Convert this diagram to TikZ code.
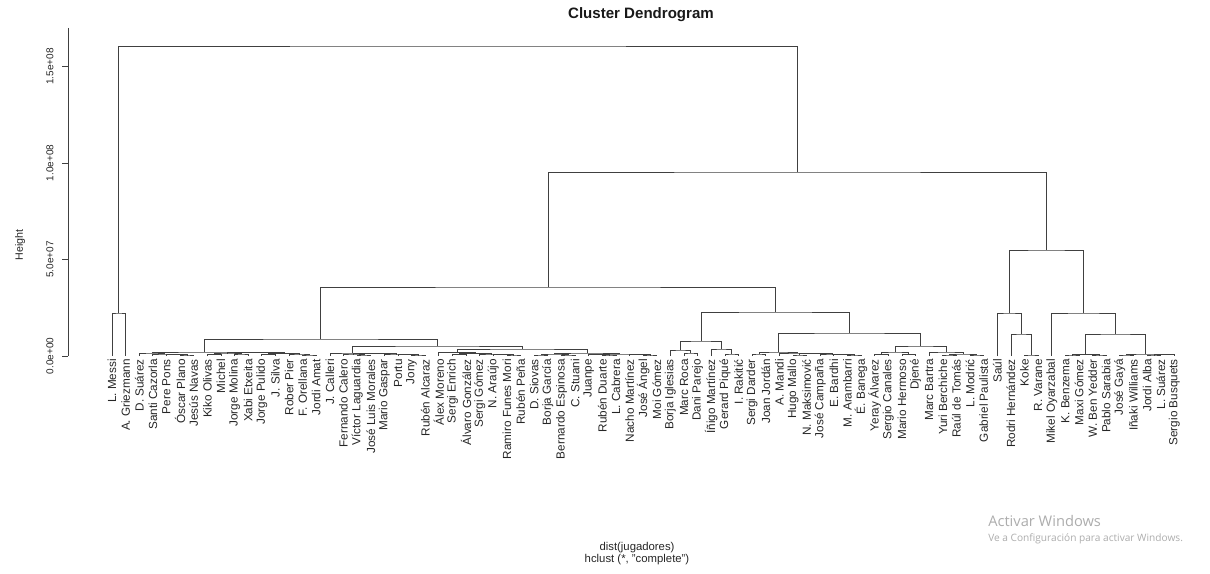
\documentclass[tikz,border=0pt]{standalone}
\usepackage{fontspec}
\setmainfont{Liberation Sans}
\newfontfamily\wmfont{Open Sans}
\usetikzlibrary{calc}
\tikzset{
  dl/.style={draw=black!75, line width=0.6pt},
  lab/.style={rotate=90, anchor=east, inner sep=0pt, text=black!85, font=\fontsize{8.8}{10}\selectfont},
  ticklab/.style={rotate=90, inner sep=0pt, text=black!85, font=\fontsize{7.5}{9}\selectfont},
  wm/.style={anchor=west, inner sep=0pt, text=black!32}
}
\newcommand\mrg[4]{%
  \coordinate (#1m) at ($(#2)!0.5!(#3)$);
  \coordinate (#1h) at (0,#4);
  \coordinate (#1) at (#1m |- #1h);
  \draw[dl] (#2) |- (#1) -| (#3);}
\begin{document}
\begin{tikzpicture}[x=0.75pt, y=-0.75pt]
\fill[white] (0,0) rectangle (1210,574);
\useasboundingbox (0,0) rectangle (1210,574);
% title
\node[font=\bfseries\fontsize{11.3}{13}\selectfont, text=black!90] (title) at (641,15) {Cluster Dendrogram};
% leaves
\foreach \nm [count=\i] in {L. Messi, A. Griezmann, D. Suárez, Santi Cazorla, Pere Pons, Óscar Plano, Jesús Navas, Kiko Olivas, Michel, Jorge Molina, Xabi Etxeita, Jorge Pulido, J. Silva, Rober Pier, F. Orellana, Jordi Amat, J. Calleri, Fernando Calero, Víctor Laguardia, José Luis Morales, Mario Gaspar, Portu, Jony, Rubén Alcaraz, Álex Moreno, Sergi Enrich, Álvaro González, Sergi Gómez, N. Araújo, Ramiro Funes Mori, Rubén Peña, D. Siovas, Borja García, Bernardo Espinosa, C. Stuani, Juanpe, Rubén Duarte, L. Cabrera, Nacho Martínez, José Ángel, Moi Gómez, Borja Iglesias, Marc Roca, Dani Parejo, Íñigo Martínez, Gerard Piqué, I. Rakitić, Sergi Darder, Joan Jordán, A. Mandi, Hugo Mallo, N. Maksimović, José Campaña, E. Bardhi, M. Arambarri, É. Banega, Yeray Álvarez, Sergio Canales, Mario Hermoso, Djené, Marc Bartra, Yuri Berchiche, Raúl de Tomás, L. Modrić, Gabriel Paulista, Saúl, Rodri Hernández, Koke, R. Varane, Mikel Oyarzabal, K. Benzema, Maxi Gómez, W. Ben Yedder, Pablo Sarabia, José Gayá, Iñaki Williams, Jordi Alba, L. Suárez, Sergio Busquets}
{
  \coordinate (l\i) at ({112+(\i-1)*13.62},356);
  \node[lab] (n\i) at ({112+(\i-1)*13.62},359) {\nm};
}
% Messi / Griezmann
\mrg{MG}{l1}{l2}{313}
% cluster A left
\mrg{a1}{l6}{l7}{355}
\mrg{a2}{l5}{a1}{354.5}
\mrg{a3}{l4}{a2}{354}
\mrg{LA}{l3}{a3}{353}
\mrg{b1}{l8}{l9}{354.5}
\mrg{b2}{l10}{l11}{354}
\mrg{GA}{b1}{b2}{353}
\mrg{c1}{l12}{l13}{354.5}
\mrg{c2}{l15}{l16}{355}
\mrg{c3}{l14}{c2}{354}
\mrg{GB}{c1}{c3}{353.5}
\mrg{LB}{GA}{GB}{352.5}
\mrg{AL}{LA}{LB}{352}
% cluster A right
\mrg{d1}{l19}{l20}{355}
\mrg{P1}{l18}{d1}{354}
\mrg{d2}{l23}{l24}{355}
\mrg{d3}{l22}{d2}{354.5}
\mrg{P2}{l21}{d3}{354}
\mrg{d4}{P1}{P2}{353.5}
\mrg{Q1}{l17}{d4}{353}
\mrg{e1}{l26}{l27}{354.5}
\mrg{e2}{l30}{l31}{355}
\mrg{e3}{l29}{e2}{354.5}
\mrg{e4}{l28}{e3}{354}
\mrg{e5}{e1}{e4}{353.5}
\mrg{RA}{l25}{e5}{352.5}
\mrg{f1}{l32}{l33}{355}
\mrg{f2}{l34}{l35}{355}
\mrg{SA}{f1}{f2}{354}
\mrg{f3}{l37}{l38}{355}
\mrg{f4}{l36}{f3}{354.5}
\mrg{f5}{l40}{l41}{355}
\mrg{f6}{l39}{f5}{354.5}
\mrg{SB}{f4}{f6}{354}
\mrg{RB}{SA}{SB}{353}
\mrg{Q2}{RA}{RB}{349}
\mrg{AR}{Q1}{Q2}{346}
\mrg{A}{AL}{AR}{339}
% cluster B
\mrg{g1}{l43}{l44}{353}
\mrg{BLL}{l42}{g1}{350}
\mrg{g2}{l46}{l47}{354}
\mrg{BLR}{l45}{g2}{349}
\mrg{B1}{BLL}{BLR}{341}
\mrg{h1}{l48}{l49}{354}
\mrg{h2}{l51}{l52}{355}
\mrg{h3}{l55}{l56}{355}
\mrg{h4}{l54}{h3}{354.5}
\mrg{h5}{l53}{h4}{354}
\mrg{X}{h2}{h5}{353.5}
\mrg{h6}{l50}{X}{353}
\mrg{B2L}{h1}{h6}{352}
\mrg{i1}{l57}{l58}{354.5}
\mrg{i2}{l59}{l60}{354.5}
\mrg{i3}{i1}{i2}{352}
\mrg{j1}{l62}{l63}{355}
\mrg{j2}{l64}{l65}{355}
\mrg{j3}{j1}{j2}{354}
\mrg{j4}{l61}{j3}{352}
\mrg{B2R}{i3}{j4}{346}
\mrg{B2}{B2L}{B2R}{333}
\mrg{B}{B1}{B2}{312}
\mrg{AB}{A}{B}{287}
% cluster C
\mrg{k1}{l68}{l69}{355}
\mrg{k2}{l67}{k1}{334}
\mrg{CL}{l66}{k2}{313}
\mrg{m1}{l71}{l72}{355}
\mrg{m2}{l73}{l74}{355}
\mrg{m3}{m1}{m2}{354.5}
\mrg{o1}{l75}{l76}{355}
\mrg{o2}{l77}{l78}{355}
\mrg{o3}{o2}{l79}{354.5}
\mrg{o4}{o1}{o3}{354}
\mrg{m4}{m3}{o4}{334}
\mrg{CR}{l70}{m4}{313}
\mrg{C}{CL}{CR}{250}
\mrg{R}{AB}{C}{172}
\mrg{root}{MG}{R}{46}
% axis
\coordinate (axb) at (68,356);
\coordinate (axt) at (68,28);
\draw[dl] (axt) -- (axb);
\foreach \yy/\tt [count=\k] in {356/0.0e+00, 259.5/5.0e+07, 163/1.0e+08, 66.5/1.5e+08}{
  \draw[dl] (62,\yy) -- (68,\yy);
  \node[ticklab] (tk\k) at (50,\yy) {\tt};
}
\node[ticklab, font=\fontsize{8}{9}\selectfont] (ylab) at (20,245) {Height};
% sub titles
\node[inner sep=0pt, text=black!85, font=\fontsize{8.5}{10}\selectfont] (sub1) at (637,548) {dist(jugadores)};
\node[inner sep=0pt, text=black!85, font=\fontsize{8.5}{10}\selectfont] (sub2) at (637,560) {hclust (*, "complete")};
% watermark
\node[wm, font=\wmfont\fontsize{11}{13}\selectfont] (wm1) at (988,521) {Activar Windows};
\node[wm, font=\wmfont\fontsize{7.6}{9}\selectfont] (wm2) at (988,539) {Ve a Configuración para activar Windows.};
\end{tikzpicture}
\end{document}
